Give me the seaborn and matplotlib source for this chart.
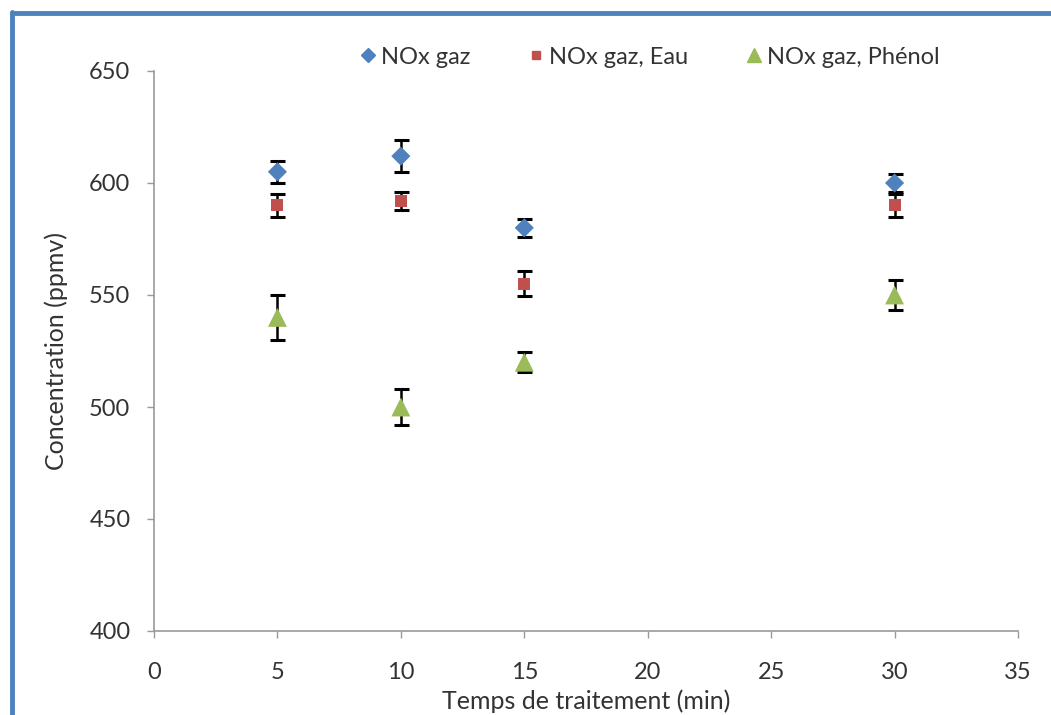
import matplotlib
matplotlib.use("Agg")
import matplotlib.pyplot as plt
import seaborn as sns
import pandas as pd
from matplotlib.lines import Line2D

# Data
temps = [5, 10, 15, 30]
series_names = ["NOx gaz", "NOx gaz, Eau", "NOx gaz, Phénol"]
nox_gaz = [605, 612, 580, 600]
nox_gaz_err = [5, 7, 4, 4]
nox_eau = [590, 592, 555, 590]
nox_eau_err = [5, 4, 5.5, 5]
nox_phenol = [540, 500, 520, 550]
nox_phenol_err = [10, 8, 4.5, 6.5]

colors = ["#4F81BD", "#C0504D", "#9BBB59"]
markers = ["D", "s", "^"]
msizes = [95, 75, 185]

values = [nox_gaz, nox_eau, nox_phenol]
errs = [nox_gaz_err, nox_eau_err, nox_phenol_err]

rows = []
for name, v, e in zip(series_names, values, errs):
    for t, y, err in zip(temps, v, e):
        rows.append({"Temps": t, "Concentration": y, "err": err, "Série": name})
df = pd.DataFrame(rows)

sns.set_style("white")
plt.rcParams["font.family"] = ["Lato", "DejaVu Sans"]

txt = "#333333"
fig = plt.figure(figsize=(10.51, 7.15), dpi=100)
ax = fig.add_axes([154/1051, 1-631/715, (1018-154)/1051, (631-71)/715])

for name, c, m, s in zip(series_names, colors, markers, msizes):
    sub = df[df["Série"] == name]
    ax.errorbar(sub["Temps"], sub["Concentration"], yerr=sub["err"], fmt="none",
                ecolor="black", elinewidth=1.8, capsize=5.4, capthick=2.2, zorder=2)
    sns.scatterplot(data=sub, x="Temps", y="Concentration", color=c, marker=m,
                    s=s, edgecolor="none", ax=ax, zorder=3, legend=False)

ax.set_xlim(0, 35)
ax.set_ylim(400, 650)
ax.set_xticks(range(0, 36, 5))
ax.set_yticks(range(400, 651, 50))
ax.set_xlabel("Temps de traitement (min)", fontsize=18, color=txt, labelpad=5)
ax.set_ylabel("Concentration (ppmv)", fontsize=18, color=txt, labelpad=15)
ax.tick_params(axis="both", labelsize=17, labelcolor=txt, direction="out",
               length=5, width=1, left=True, bottom=True, color="#999999")
ax.tick_params(axis="x", pad=17)
ax.tick_params(axis="y", pad=12)
for sp in ["top", "right"]:
    ax.spines[sp].set_visible(False)
for sp in ["left", "bottom"]:
    ax.spines[sp].set_color("#999999")
    ax.spines[sp].set_linewidth(1.2)

handles = [Line2D([], [], linestyle="none", marker=m, color=c, markersize=ms)
           for m, c, ms in zip(markers, colors, [6.8, 6.0, 9.5])]
fig.legend(handles, series_names, loc="center", bbox_to_anchor=(649/1051, 1-57/715),
           ncol=3, frameon=False, fontsize=17, handletextpad=0.15, columnspacing=2.4,
           handlelength=0.8, labelcolor=txt)

# Blue window frame (left and top)
fig.add_artist(Line2D([12/1051, 12/1051], [0, 1-12/715], transform=fig.transFigure,
                      color="#4F81BD", linewidth=3.5))
fig.add_artist(Line2D([12/1051, 1], [1-13/715, 1-13/715], transform=fig.transFigure,
                      color="#4F81BD", linewidth=3.5))

fig.savefig("out.png", dpi=100)
